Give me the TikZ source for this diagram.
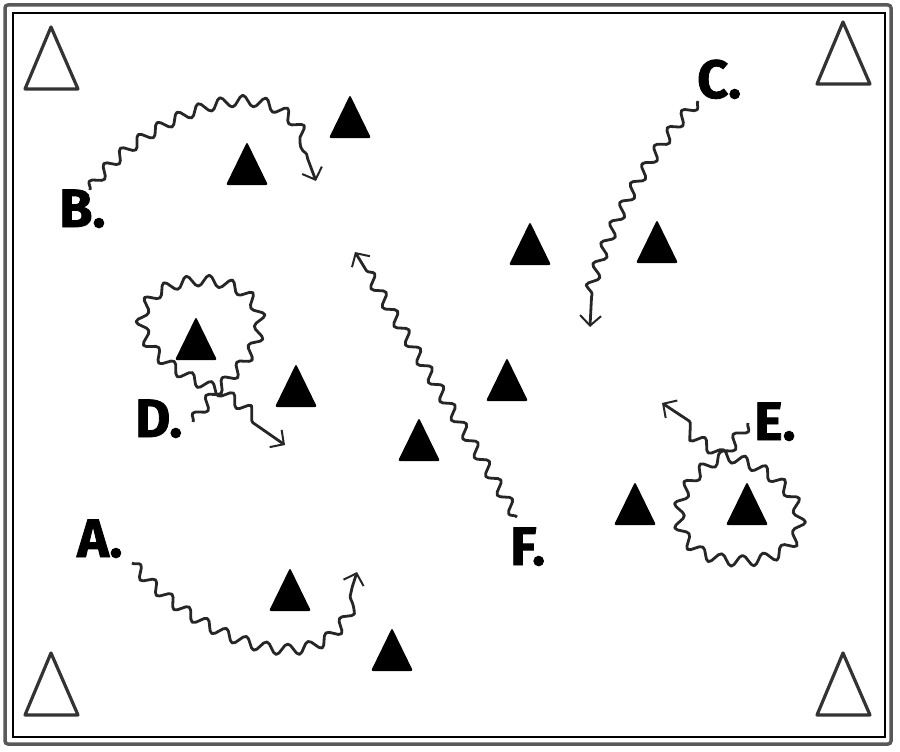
\documentclass[tikz,border=0pt]{standalone}
\usepackage{fontspec}
\newfontfamily\labelfont[BoldFeatures={FakeBold=1.5}]{Fira Sans}
\usetikzlibrary{arrows.meta,decorations.pathmorphing}

\tikzset{
  runner/.style={draw=black!85, line width=2.8pt, line join=round,
    decorate, decoration={snake, segment length=22pt, amplitude=5.5pt, post length=#1},
    -{Straight Barb[length=10pt,width=21pt,line width=2pt]}},
  runner/.default=20pt,
  cone/.style={fill=black, rounded corners=2pt},
  marker/.style={draw=black!80, line width=3.2pt, line join=round},
  player/.style={font=\labelfont\bfseries\fontsize{54}{56}\selectfont, inner sep=0pt, anchor=base west}
}

\begin{document}
\begin{tikzpicture}[x=1pt,y=-1pt]
\useasboundingbox (0,0) rectangle (900,752);
% frame
\draw[line width=3.5pt, black!65, rounded corners=3pt] (5,5) rectangle (891,744);
\draw[line width=1.2pt] (13,13) rectangle (885,737);

% corner markers
\foreach \x/\y in {51/27, 843/22, 51/653, 843/653}
  \draw[marker] (\x,\y) -- ++(27,62) -- ++(-53,0) -- cycle;

% cones
\foreach \x/\y in {350/95, 247/142, 530/222, 657/220, 196/317, 296/364,
                   507/358, 419/418, 635/482, 747/482, 290/568, 392/628}
  \fill[cone] (\x,\y) -- ++(21,43) -- ++(-42,0) -- cycle;

% players
\node[player] (A) at (77,557)  {A.};
\node[player] (B) at (59,227)  {B.};
\node[player] (C) at (697,98)  {C.};
\node[player] (D) at (135,437) {D.};
\node[player] (E) at (754,440) {E.};
\node[player] (F) at (510,565) {F.};

% runs
\coordinate (a0) at (132,563);
\coordinate (a1) at (357,572);
\coordinate (b0) at (90,190);
\coordinate (b1) at (316,181);
\coordinate (c0) at (698,101);
\coordinate (c1) at (590,327);
\coordinate (d0) at (193,422);
\coordinate (dx) at (213,395);
\coordinate (d1) at (285,445);
\coordinate (e0) at (748,423);
\coordinate (ex) at (730,448);
\coordinate (e1) at (662,403);
\coordinate (f0) at (517,517);
\coordinate (f1) at (355,252);

\draw[runner=16pt] (a0) .. controls (200,640) and (330,690) .. (352,588) -- (a1);
\draw[runner=24pt] (b0) .. controls (130,130) and (280,50) .. (308,160) -- (b1);
\draw[runner=30pt] (c0) .. controls (660,140) and (610,220) .. (592,295) -- (c1);
\draw[runner=30pt] (d0) -- (dx) .. controls (290,330) and (250,286) .. (199,286)
  .. controls (125,286) and (105,355) .. (dx) -- (d1);
\draw[runner=30pt] (e0) -- (ex) .. controls (670,470) and (660,553) .. (745,553)
  .. controls (830,553) and (822,470) .. (ex) -- (e1);
\draw[runner=16pt] (f0) -- (f1);

\end{tikzpicture}
\end{document}
